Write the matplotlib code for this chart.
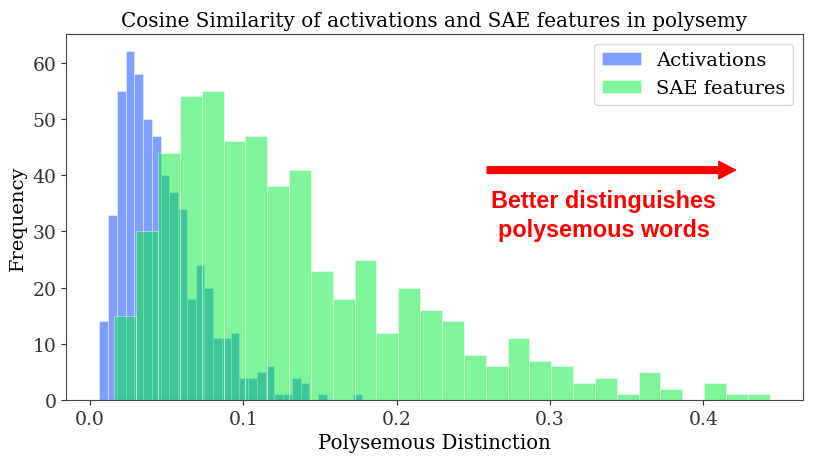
import numpy as np
import matplotlib
matplotlib.use('Agg')
import matplotlib.pyplot as plt

#### histogram counts (30 bins each)
act_range = [0.00607, 0.17725]
act_counts = [14, 33, 55, 62, 58, 50, 47, 40, 37, 34,
              18, 24, 20, 11, 11, 12, 4, 4, 5, 6,
              1, 1, 4, 3, 0, 1, 0, 0, 0, 1]

sae_range = [0.01585, 0.4432]
sae_counts = [15, 30, 44, 54, 55, 46, 47, 38, 41, 23,
              18, 25, 12, 20, 16, 14, 8, 6, 11, 7,
              6, 3, 4, 1, 5, 2, 0, 3, 1, 1]

labels = ['Activations', 'SAE features']

plt.rcParams['font.family'] = 'DejaVu Serif'

fig = plt.figure(figsize=(8.3, 4.6), dpi=100)
ax = fig.add_axes([0.0795, 0.128, 0.888, 0.796])

act_edges = np.linspace(act_range[0], act_range[1], len(act_counts) + 1)
sae_edges = np.linspace(sae_range[0], sae_range[1], len(sae_counts) + 1)

ax.hist(act_edges[:-1], bins=act_edges, weights=act_counts, color='#0040ff',
        alpha=0.5, edgecolor=(1, 1, 1, 0.25), linewidth=0.6, label=labels[0])
ax.hist(sae_edges[:-1], bins=sae_edges, weights=sae_counts, color='#00eb37',
        alpha=0.5, edgecolor=(1, 1, 1, 0.25), linewidth=0.6, label=labels[1])

ax.set_title('Cosine Similarity of activations and SAE features in polysemy', fontsize=14.3)
ax.set_xlabel('Polysemous Distinction', fontsize=14.2)
ax.set_ylabel('Frequency', fontsize=14)
ax.tick_params(labelsize=13.5, colors='#333333')
for s in ax.spines.values():
    s.set_color('#444444')
ax.legend(loc='upper right', fontsize=14)

#### arrow and note
ax.annotate('', xy=(0.421, 40.9), xytext=(0.259, 40.9),
            arrowprops=dict(color='red', width=4.8, headwidth=12.5, headlength=12))
ax.text(0.335, 32.9, 'Better distinguishes\npolysemous words', color='red',
        fontsize=16.8, fontweight='bold', family='Liberation Sans',
        ha='center', va='center', linespacing=1.3)

fig.savefig('out.png', dpi=100)
